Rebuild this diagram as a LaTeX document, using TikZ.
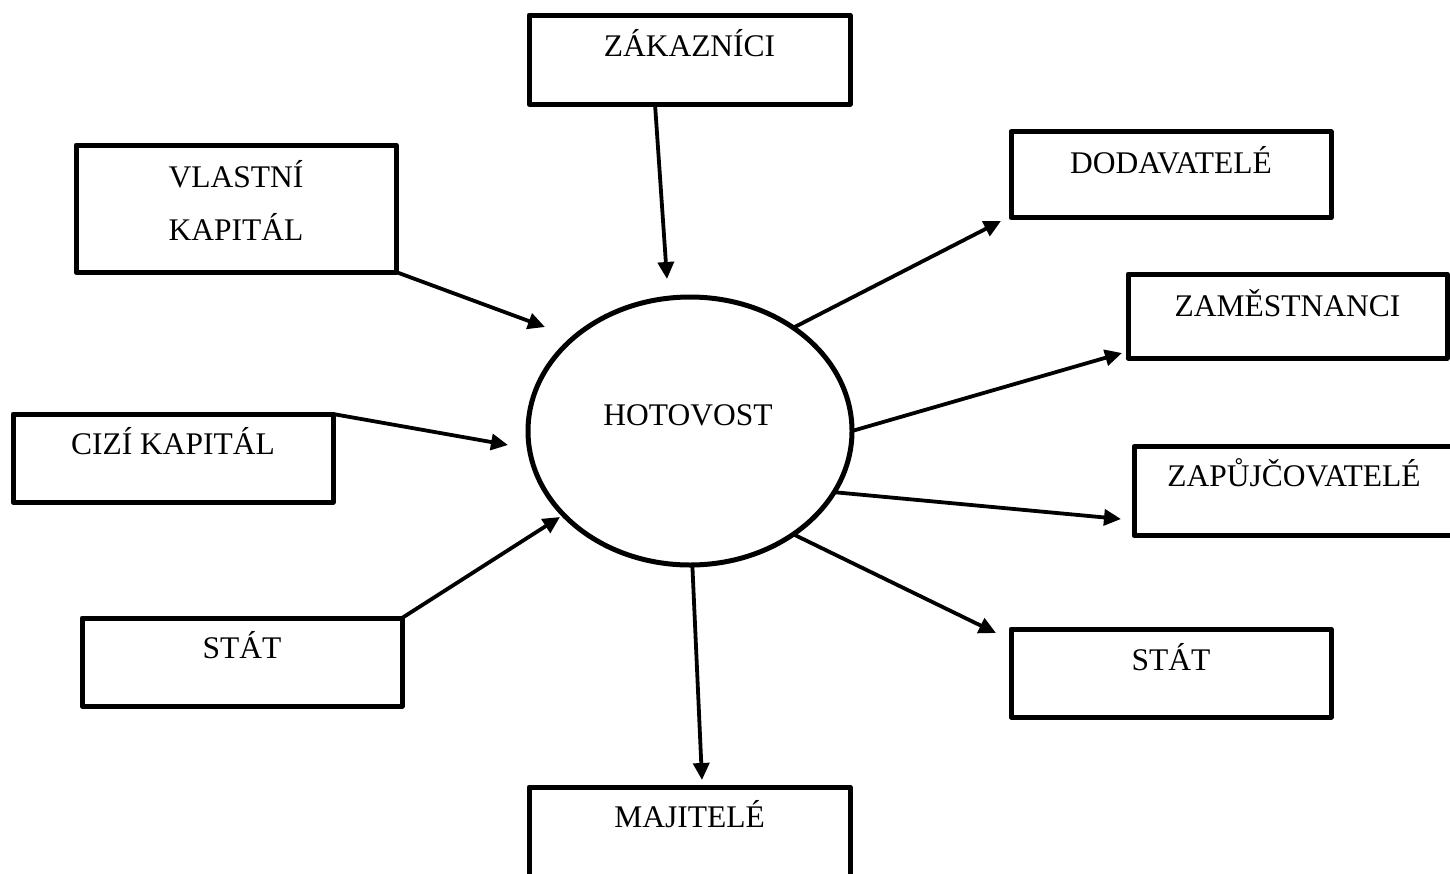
\documentclass[tikz,border=0pt]{standalone}
\usepackage{fontspec}
\setmainfont{Liberation Serif}
\usetikzlibrary{arrows.meta,shapes.geometric}
\begin{document}
\begin{tikzpicture}[x=1pt,y=-1pt,
  box/.style={draw, line width=5pt, line join=round, rectangle, inner sep=0pt, outer sep=0pt, minimum width=320pt, minimum height=88pt},
  txt/.style={font=\fontsize{31.5}{36}\selectfont, text height=20.6pt, text depth=0pt, inner sep=0pt, outer sep=0pt},
  flow/.style={line width=3.8pt, -{Triangle[length=17pt,width=16pt]}}]
\useasboundingbox (0,0) rectangle (1450,873);

\node[box, minimum width=321pt, minimum height=89pt, label={[txt,name=zakt,yshift=13.5pt]center:ZÁKAZNÍCI}] (zak) at (689.5,59.5) {};
\node[box, minimum height=127pt, label={[txt,name=vkt1,yshift=31pt]center:VLASTNÍ}, label={[txt,name=vkt2,yshift=-22pt]center:KAPITÁL}] (vk) at (236,208.5) {};
\node[box, minimum height=86pt, label={[txt,name=dodt,yshift=12pt]center:DODAVATELÉ}] (dod) at (1171,174.75) {};
\node[box, minimum width=319pt, minimum height=84pt, label={[txt,name=zamt,yshift=10pt]center:ZAMĚSTNANCI}] (zam) at (1287.5,316) {};
\node[box, label={[txt,name=ckt,yshift=13.5pt]center:CIZÍ KAPITÁL}] (ck) at (173,458) {};
\node[box, minimum height=89pt, label={[txt,name=zapt,yshift=14.5pt]center:ZAPŮJČOVATELÉ}] (zap) at (1294,491) {};
\node[box, label={[txt,name=slt,yshift=14pt]center:STÁT}] (sl) at (242,662) {};
\node[box, label={[txt,name=srt,yshift=13pt]center:STÁT}] (sr) at (1171,673) {};
\node[box, minimum width=321pt, minimum height=89pt, label={[txt,name=majt,yshift=14pt]center:MAJITELÉ}] (maj) at (689.5,831.5) {};

\node[draw, ellipse, line width=5pt, inner sep=0pt, outer sep=0pt, minimum width=324pt, minimum height=268pt,
  label={[txt,name=hott,yshift=15.5pt,xshift=-2pt]center:HOTOVOST}] (hot) at (690,431) {};

\coordinate (tzak) at (667,279);
\coordinate (tvk) at (545,327);
\coordinate (tck) at (508,445);
\coordinate (tsl) at (560,517);
\coordinate (tdod) at (1001,221);
\coordinate (tzam) at (1122,353);
\coordinate (tzap) at (1121,519);
\coordinate (tsr) at (996,633);
\coordinate (tmaj) at (702,780);

\draw[flow] ([xshift=-34.5pt]zak.south) -- (tzak);
\draw[flow] (vk.south east) -- (tvk);
\draw[flow] (ck.north east) -- (tck);
\draw[flow] (sl.north east) -- (tsl);
\draw[flow] (hot.45.5) -- (tdod);
\draw[flow] (hot.0) -- (tzam);
\draw[flow] (hot.-23) -- (tzap);
\draw[flow] (hot.-45) -- (tsr);
\draw[flow] (hot.-89) -- (tmaj);
\end{tikzpicture}
\end{document}
